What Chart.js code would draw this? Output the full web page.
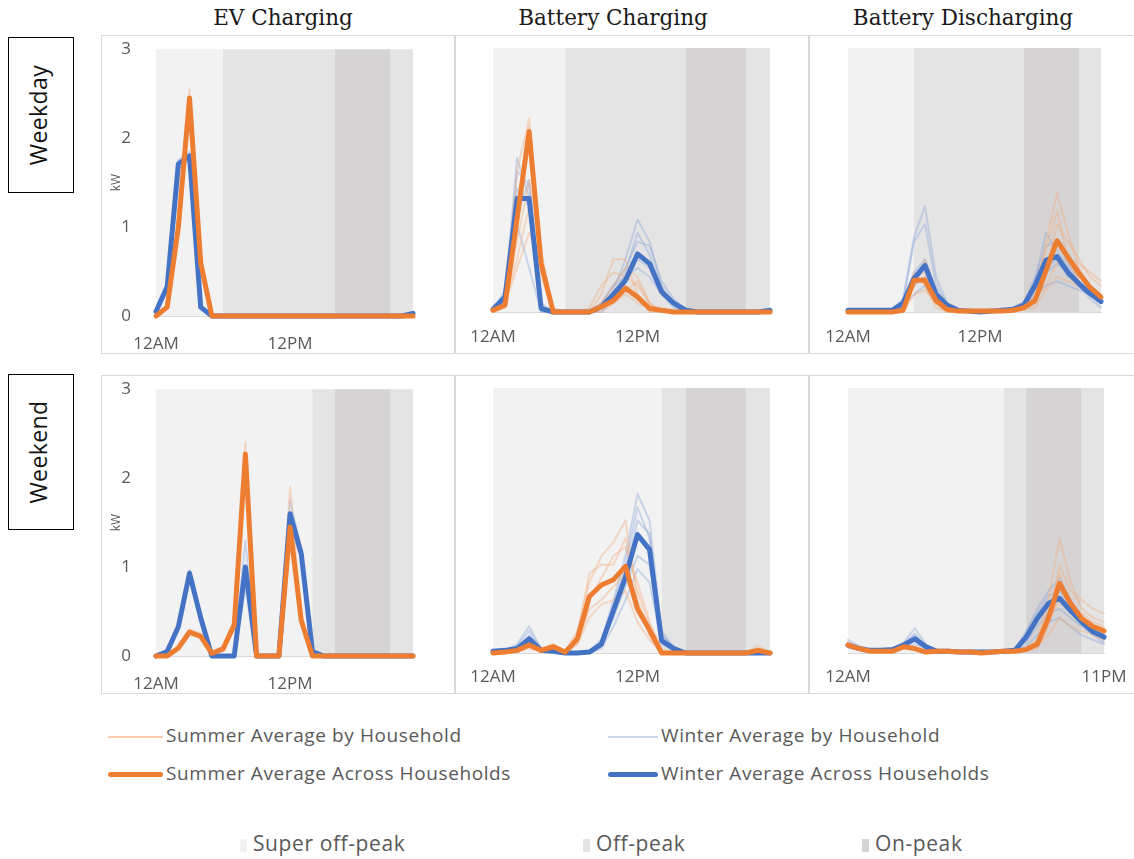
<!DOCTYPE html>
<html>
<head>
<meta charset="utf-8">
<script src="https://cdn.jsdelivr.net/npm/chart.js@4/dist/chart.umd.min.js"></script>
<style>
  body { margin: 0; background: #fff; width: 1134px; height: 859px; overflow: hidden; position: relative; font-family: "Open Sans", sans-serif; }
  .panel { position: absolute; border: 1px solid #d9d9d9; box-sizing: border-box; }
  .panel canvas { display: block; }
  .title { position: absolute; top: 5px; font-family: "DejaVu Serif", serif; font-size: 21.5px; color: #1a1a1a; transform: translateX(-50%); white-space: nowrap; }
  .rowlab { position: absolute; left: 8px; width: 66px; height: 156px; border: 1.5px solid #000; box-sizing: border-box; }
  .rowlab span { position: absolute; left: 46%; top: 50%; transform: translate(-50%, -50%) rotate(-90deg); font-size: 23px; letter-spacing: 0.4px; white-space: nowrap; color: #111; }
  .leg { position: absolute; font-size: 19px; color: #595959; white-space: nowrap; line-height: 1; letter-spacing: 0.6px; }
  .swatch { position: absolute; border-radius: 3px; }
  .box { position: absolute; width: 7px; height: 13px; }
</style>
</head>
<body>
<div class="title" style="left:283px">EV Charging</div>
<div class="title" style="left:613px">Battery Charging</div>
<div class="title" style="left:963px">Battery Discharging</div>
<div class="rowlab" style="top:37px"><span>Weekday</span></div>
<div class="rowlab" style="top:374px"><span>Weekend</span></div>
<div id="charts"></div>

<div class="swatch" style="left:108px;top:736px;width:55px;height:2px;background:#f8cbad"></div>
<div class="leg" style="left:166px;top:726px">Summer Average by Household</div>
<div class="swatch" style="left:108px;top:772px;width:55px;height:5px;background:#ED7D31"></div>
<div class="leg" style="left:166px;top:764px">Summer Average Across Households</div>
<div class="swatch" style="left:608px;top:736px;width:50px;height:2px;background:#c9d6ee"></div>
<div class="leg" style="left:661px;top:726px">Winter Average by Household</div>
<div class="swatch" style="left:608px;top:772px;width:50px;height:5px;background:#4472C4"></div>
<div class="leg" style="left:661px;top:764px">Winter Average Across Households</div>

<div class="box" style="left:240px;top:839px;background:#f2f2f2"></div>
<div class="leg" style="left:253px;top:833px;font-size:21px">Super off-peak</div>
<div class="box" style="left:583px;top:839px;background:#e4e4e4"></div>
<div class="leg" style="left:596px;top:833px;font-size:21px">Off-peak</div>
<div class="box" style="left:862px;top:839px;background:#d5d3d3"></div>
<div class="leg" style="left:875px;top:833px;font-size:21px">On-peak</div>

<script>
// hour categories
const hours = ['12AM','1AM','2AM','3AM','4AM','5AM','6AM','7AM','8AM','9AM','10AM','11AM',
               '12PM','1PM','2PM','3PM','4PM','5PM','6PM','7PM','8PM','9PM','10PM','11PM'];

// time-of-use periods [from hour, to hour, period]
const weekdayBands = [[0, 6, 'super'], [6, 16, 'off'], [16, 21, 'on'], [21, 23, 'off']];
const weekendBands = [[0, 14, 'super'], [14, 16, 'off'], [16, 21, 'on'], [21, 23, 'off']];
const bandColors = { super: '#f2f2f2', off: '#e4e4e4', on: '#d5d3d3' };

// ---- EV charging, weekday
const evWeekdaySummerAvg = [0,0.1,1.0,2.45,0.6,0,0,0,0,0,0,0,0,0,0,0,0,0,0,0,0,0,0,0];
const evWeekdayWinterAvg = [0.05,0.33,1.71,1.8,0.1,0,0,0,0,0,0,0,0,0,0,0,0,0,0,0,0,0,0,0.03];
const evWeekdaySummerHH = [
  [0,0.1,1.1,2.55,0.65,0,0,0,0,0,0,0,0,0,0,0,0,0,0,0,0,0,0,0],
  [0,0.08,0.9,2.35,0.55,0,0,0,0,0,0,0,0,0,0,0,0,0,0,0,0,0,0,0]
];
const evWeekdayWinterHH = [
  [0.05,0.38,1.75,1.85,0.12,0,0,0,0,0,0,0,0,0,0,0,0,0,0,0,0,0,0,0.03],
  [0.05,0.3,1.65,1.75,0.08,0,0,0,0,0,0,0,0,0,0,0,0,0,0,0,0,0,0,0.03]
];

// ---- EV charging, weekend
const evWeekendSummerAvg = [0,0,0.09,0.27,0.22,0.03,0.08,0.35,2.27,0,0,0,1.45,0.4,0,0,0,0,0,0,0,0,0,0];
const evWeekendWinterAvg = [0,0.05,0.33,0.93,0.43,0,0,0,1.0,0,0,0,1.6,1.15,0.05,0,0,0,0,0,0,0,0,0];
const evWeekendSummerHH = [
  [0,0,0.1,0.3,0.25,0.03,0.1,0.4,2.4,0,0,0,1.9,0.45,0,0,0,0,0,0,0,0,0,0],
  [0,0,0.07,0.24,0.2,0.03,0.06,0.3,2.15,0,0,0,1.35,0.35,0,0,0,0,0,0,0,0,0,0]
];
const evWeekendWinterHH = [
  [0,0.06,0.36,0.97,0.46,0,0,0,1.3,0,0,0,1.75,1.2,0.06,0,0,0,0,0,0,0,0,0],
  [0,0.04,0.3,0.9,0.4,0,0,0,0.75,0,0,0,1.45,1.1,0.04,0,0,0,0,0,0,0,0,0]
];

// ---- Battery charging, weekday
const bcWeekdaySummerAvg = [0.02,0.08,1.06,2.05,0.55,0,0,0,0,0.06,0.13,0.27,0.17,0.04,0.02,0,0,0,0,0,0,0,0,0];
const bcWeekdayWinterAvg = [0.03,0.17,1.29,1.29,0.04,0,0,0,0,0.06,0.2,0.36,0.66,0.55,0.23,0.1,0.02,0,0,0,0,0,0,0.02];
const bcWeekdaySummerHH = [
  [0,0.1,1.6,2.2,0.4,0,0,0,0,0.1,0.2,0.3,0.2,0.05,0,0,0,0,0,0,0,0,0,0],
  [0,0.05,0.8,1.5,0.7,0,0,0,0,0.2,0.6,0.6,0.2,0,0,0,0,0,0,0,0,0,0,0],
  [0.05,0.1,1.2,1.9,0.5,0,0,0,0,0,0.1,0.2,0.1,0.05,0,0,0,0,0,0,0,0,0,0],
  [0,0.1,0.5,0.9,0.6,0.05,0,0,0.05,0.3,0.45,0.4,0.3,0.1,0,0,0,0,0,0,0,0,0,0],
  [0,0.05,1.0,2.1,0.6,0,0,0,0,0.05,0.1,0.25,0.35,0.1,0.02,0,0,0,0,0,0,0,0,0],
  [0,0.1,0.6,1.2,0.5,0,0,0,0,0.1,0.3,0.5,0.4,0.1,0,0,0,0,0,0,0,0,0,0]
];
const bcWeekdayWinterHH = [
  [0.05,0.2,1.75,1.3,0.05,0,0,0,0,0.05,0.25,0.6,1.05,0.8,0.3,0.1,0,0,0,0,0,0,0,0.03],
  [0,0.15,1.1,1.5,0.1,0,0,0,0,0.1,0.3,0.5,0.8,0.75,0.35,0.15,0.02,0,0,0,0,0,0,0],
  [0.05,0.2,1.4,1.2,0,0,0,0,0,0,0.15,0.35,0.6,0.5,0.2,0.05,0,0,0,0,0,0,0,0.02],
  [0,0.1,1.6,1.45,0.05,0,0,0,0,0.05,0.2,0.45,0.9,0.65,0.25,0.1,0,0,0,0,0,0,0,0],
  [0.02,0.25,1.0,0.5,0,0,0,0,0,0.1,0.3,0.4,0.5,0.4,0.2,0.1,0.02,0,0,0,0,0,0,0.02]
];

// ---- Battery charging, weekend
const bcWeekendSummerAvg = [0,0.01,0.03,0.09,0.03,0.07,0.01,0.16,0.64,0.77,0.83,0.98,0.5,0.26,0,0,0,0,0,0,0,0,0.03,0];
const bcWeekendWinterAvg = [0.02,0.03,0.05,0.16,0.03,0.02,0,0,0.01,0.1,0.48,0.86,1.34,1.17,0.14,0.05,0,0,0,0,0,0,0,0];
const bcWeekendSummerHH = [
  [0,0,0.05,0.1,0.05,0.1,0.02,0.25,0.8,1.1,1.25,1.5,0.6,0.2,0,0,0,0,0,0,0,0,0.08,0],
  [0,0,0.02,0.08,0.05,0.08,0.02,0.2,0.9,1.0,1.0,1.3,0.7,0.3,0,0,0,0,0,0,0,0,0.05,0],
  [0,0.01,0.03,0.1,0.03,0.05,0,0.1,0.5,0.6,0.75,0.9,0.45,0.25,0,0,0,0,0,0,0,0,0.03,0],
  [0,0,0.03,0.12,0.05,0.1,0.02,0.15,0.6,0.85,1.1,1.2,0.8,0.35,0.05,0,0,0,0,0,0,0,0.02,0],
  [0,0,0.02,0.05,0.02,0.05,0,0.1,0.4,0.55,0.6,0.7,0.35,0.15,0,0,0,0,0,0,0,0,0.02,0]
];
const bcWeekendWinterHH = [
  [0.02,0.03,0.1,0.3,0.05,0.02,0,0,0.02,0.15,0.6,1.1,1.8,1.5,0.25,0.05,0,0,0,0,0,0,0,0],
  [0.02,0.03,0.05,0.2,0.03,0.02,0,0,0.01,0.1,0.5,0.9,1.5,1.35,0.2,0.05,0,0,0,0,0,0,0,0],
  [0.02,0.03,0.05,0.12,0.03,0.02,0,0,0,0.08,0.4,0.75,1.1,1.0,0.15,0.05,0,0,0,0,0,0,0,0],
  [0.02,0.03,0.08,0.25,0.04,0.02,0,0,0.01,0.12,0.55,1.0,1.65,1.3,0.2,0.08,0,0,0,0,0,0,0,0],
  [0.02,0.02,0.03,0.1,0.02,0.02,0,0,0,0.05,0.3,0.6,0.95,0.8,0.1,0.03,0,0,0,0,0,0,0,0]
];

// ---- Battery discharging, weekday
const bdWeekdaySummerAvg = [0,0,0,0,0,0.02,0.36,0.36,0.13,0.03,0.01,0.01,0.01,0.01,0.01,0.02,0.05,0.13,0.47,0.81,0.62,0.44,0.28,0.17];
const bdWeekdayWinterAvg = [0.02,0.02,0.02,0.02,0.02,0.1,0.38,0.53,0.2,0.08,0.02,0.01,0,0.01,0.02,0.03,0.08,0.3,0.59,0.63,0.45,0.32,0.21,0.12];
const bdWeekdaySummerHH = [
  [0,0,0,0,0,0,0.3,0.6,0.2,0.05,0,0,0,0,0,0,0.05,0.2,0.8,1.35,0.9,0.5,0.3,0.2],
  [0,0,0,0,0,0.02,0.4,0.45,0.15,0,0,0,0,0,0,0.02,0.05,0.1,0.5,1.0,0.8,0.6,0.4,0.3],
  [0,0,0,0,0,0,0.2,0.25,0.1,0.02,0,0,0,0,0,0,0.02,0.15,0.3,0.55,0.6,0.55,0.45,0.35],
  [0,0,0,0,0,0,0.35,0.4,0.1,0,0,0,0,0,0,0,0.1,0.3,0.7,1.15,0.6,0.35,0.2,0.1],
  [0,0,0,0,0,0.05,0.45,0.3,0.05,0,0,0,0,0,0,0,0.03,0.05,0.25,0.4,0.35,0.3,0.25,0.2]
];
const bdWeekdayWinterHH = [
  [0.02,0.02,0.02,0.02,0.02,0.15,0.85,1.2,0.4,0.1,0.02,0,0,0,0.02,0.05,0.1,0.4,0.75,0.8,0.55,0.35,0.2,0.1],
  [0.02,0.02,0.02,0.02,0.02,0.1,0.8,1.0,0.3,0.1,0.02,0,0,0,0.02,0.03,0.1,0.35,0.9,0.7,0.5,0.3,0.2,0.1],
  [0.02,0.02,0.02,0.02,0.02,0.05,0.3,0.4,0.15,0.05,0.02,0,0,0,0.02,0.03,0.05,0.25,0.45,0.55,0.45,0.3,0.15,0.05],
  [0.02,0.02,0.02,0.02,0.02,0.1,0.45,0.6,0.25,0.08,0.02,0,0,0,0.02,0.05,0.12,0.3,0.5,0.6,0.4,0.35,0.25,0.15],
  [0.02,0.02,0.02,0.02,0.02,0.08,0.2,0.3,0.1,0.05,0.02,0,0,0,0.01,0.02,0.05,0.2,0.3,0.35,0.3,0.25,0.2,0.1]
];

// ---- Battery discharging, weekend
const bdWeekendSummerAvg = [0.09,0.05,0.02,0.02,0.02,0.07,0.05,0.01,0.02,0.02,0.01,0.01,0,0.01,0.02,0.02,0.04,0.1,0.39,0.79,0.56,0.39,0.3,0.25];
const bdWeekendWinterAvg = [0.09,0.05,0.03,0.03,0.04,0.09,0.16,0.07,0.02,0.02,0.01,0.01,0.01,0.01,0.02,0.03,0.18,0.39,0.56,0.62,0.48,0.35,0.24,0.18];
const bdWeekendSummerHH = [
  [0.1,0.05,0.02,0.02,0.02,0.08,0.05,0.01,0.02,0.02,0.01,0.01,0,0.01,0.02,0.02,0.05,0.15,0.6,1.3,0.8,0.5,0.4,0.35],
  [0.08,0.05,0.02,0.02,0.02,0.06,0.04,0.01,0.02,0.02,0.01,0.01,0,0.01,0.02,0.02,0.03,0.05,0.3,1.0,0.7,0.6,0.5,0.45],
  [0.1,0.05,0.02,0.02,0.02,0.08,0.06,0.01,0.02,0.02,0.01,0.01,0,0.01,0.02,0.02,0.04,0.1,0.35,0.6,0.55,0.45,0.35,0.3],
  [0.12,0.06,0.03,0.02,0.02,0.07,0.05,0.01,0.02,0.02,0.01,0.01,0,0.01,0.02,0.02,0.05,0.08,0.2,0.4,0.3,0.25,0.2,0.15],
  [0.08,0.04,0.02,0.02,0.02,0.06,0.05,0.01,0.02,0.02,0.01,0.01,0,0.01,0.02,0.02,0.04,0.12,0.5,0.9,0.5,0.35,0.25,0.2]
];
const bdWeekendWinterHH = [
  [0.15,0.08,0.03,0.03,0.05,0.12,0.28,0.1,0.02,0.02,0.01,0.01,0.01,0.01,0.02,0.04,0.25,0.5,0.7,0.85,0.6,0.4,0.3,0.2],
  [0.1,0.06,0.03,0.03,0.04,0.1,0.2,0.08,0.02,0.02,0.01,0.01,0.01,0.01,0.02,0.03,0.2,0.45,0.65,0.7,0.55,0.4,0.28,0.22],
  [0.08,0.05,0.03,0.03,0.04,0.08,0.15,0.06,0.02,0.02,0.01,0.01,0.01,0.01,0.02,0.03,0.12,0.3,0.45,0.5,0.4,0.3,0.2,0.12],
  [0.12,0.06,0.03,0.03,0.05,0.1,0.22,0.08,0.02,0.02,0.01,0.01,0.01,0.01,0.02,0.03,0.18,0.35,0.55,0.6,0.45,0.35,0.25,0.15],
  [0.06,0.04,0.02,0.02,0.03,0.06,0.1,0.05,0.02,0.02,0.01,0.01,0.01,0.01,0.02,0.02,0.08,0.2,0.35,0.4,0.3,0.2,0.15,0.1]
];

// shaded tariff periods behind the lines
const bandPlugin = {
  id: 'touBands',
  beforeDatasetsDraw(chart, args, opts) {
    const { ctx, scales: { x, y } } = chart;
    const top = y.getPixelForValue(3), bottom = y.getPixelForValue(0);
    ctx.save();
    opts.bands.forEach(b => {
      const x0 = x.getPixelForValue(b[0]);
      const x1 = x.getPixelForValue(b[1]);
      ctx.fillStyle = bandColors[b[2]];
      ctx.fillRect(x0, top, x1 - x0, bottom - top);
    });
    ctx.restore();
  }
};

function lineSet(data, color, width) {
  return { data: data, borderColor: color, borderWidth: width, pointRadius: 0, tension: 0,
           borderJoinStyle: 'round', borderCapStyle: 'round', clip: false, fill: false };
}

const panels = [
  { left: 101, top: 35, w: 354, bands: weekdayBands, showY: true, ticksAt: [0, 12], padL: 54, padR: 41, xH: 37, tickPad: 18,
    s: evWeekdaySummerAvg, wi: evWeekdayWinterAvg, sh: evWeekdaySummerHH, wh: evWeekdayWinterHH },
  { left: 455, top: 35, w: 354, bands: weekdayBands, showY: false, ticksAt: [0, 12], padL: 37, padR: 38, xH: 41, tickPad: 15,
    s: bcWeekdaySummerAvg, wi: bcWeekdayWinterAvg, sh: bcWeekdaySummerHH, wh: bcWeekdayWinterHH },
  { left: 809, top: 35, w: 330, bands: weekdayBands, showY: false, ticksAt: [0, 12], padL: 38, padR: 37, xH: 41, tickPad: 15,
    s: bdWeekdaySummerAvg, wi: bdWeekdayWinterAvg, sh: bdWeekdaySummerHH, wh: bdWeekdayWinterHH },
  { left: 101, top: 375, w: 354, bands: weekendBands, showY: true, ticksAt: [0, 12], padL: 54, padR: 41, xH: 37, tickPad: 18,
    s: evWeekendSummerAvg, wi: evWeekendWinterAvg, sh: evWeekendSummerHH, wh: evWeekendWinterHH },
  { left: 455, top: 375, w: 354, bands: weekendBands, showY: false, ticksAt: [0, 12], padL: 37, padR: 38, xH: 40, tickPad: 14,
    s: bcWeekendSummerAvg, wi: bcWeekendWinterAvg, sh: bcWeekendSummerHH, wh: bcWeekendWinterHH },
  { left: 809, top: 375, w: 330, bands: weekendBands, showY: false, ticksAt: [0, 23], padL: 38, padR: 34, xH: 40, tickPad: 14,
    s: bdWeekendSummerAvg, wi: bdWeekendWinterAvg, sh: bdWeekendSummerHH, wh: bdWeekendWinterHH }
];

const tickFont = { family: '"Open Sans", sans-serif', size: 17 };
const holder = document.getElementById('charts');

panels.forEach(p => {
  const div = document.createElement('div');
  div.className = 'panel';
  div.style.left = p.left + 'px';
  div.style.top = p.top + 'px';
  div.style.width = p.w + 'px';
  div.style.height = '319px';
  const cv = document.createElement('canvas');
  cv.width = p.w - 2;
  cv.height = 317;
  div.appendChild(cv);
  holder.appendChild(div);

  // thick averages first so they draw on top
  const datasets = [lineSet(p.s, '#ED7D31', 5), lineSet(p.wi, '#4472C4', 5)];
  p.sh.forEach(d => datasets.push(lineSet(d, 'rgba(244,177,131,0.42)', 2)));
  p.wh.forEach(d => datasets.push(lineSet(d, 'rgba(143,170,220,0.42)', 2)));

  new Chart(cv, {
    type: 'line',
    data: { labels: hours, datasets: datasets },
    plugins: [bandPlugin],
    options: {
      responsive: false,
      animation: false,
      devicePixelRatio: 1,
      // the y scale (shown or hidden) reserves the left margin
      layout: { padding: { left: 0, right: p.padR, top: 12, bottom: 0 } },
      plugins: { legend: { display: false }, tooltip: { enabled: false }, touBands: { bands: p.bands } },
      scales: {
        x: {
          offset: false,
          // invisible tick marks only push the labels down
          grid: { display: false, drawTicks: true, tickLength: p.tickPad },
          border: { display: true, color: '#d9d9d9', width: 1 },
          ticks: { autoSkip: false, maxRotation: 0, padding: 0, font: tickFont, color: '#595959',
                   callback: (v, i) => p.ticksAt.includes(i) ? hours[i] : '' },
          afterFit: s => { s.height = p.xH; }
        },
        y: {
          min: 0, max: 3,
          display: p.showY,
          grid: { display: false, drawTicks: true, tickLength: 22 },
          border: { display: false },
          ticks: { stepSize: 1, padding: 3, font: tickFont, color: '#595959' },
          title: { display: true, text: 'kW', color: '#595959', font: { family: '"Open Sans", sans-serif', size: 12 }, padding: { top: 7, bottom: 0 } },
          afterFit: s => { s.width = p.padL; }
        }
      }
    }
  });
});
</script>
</body>
</html>
